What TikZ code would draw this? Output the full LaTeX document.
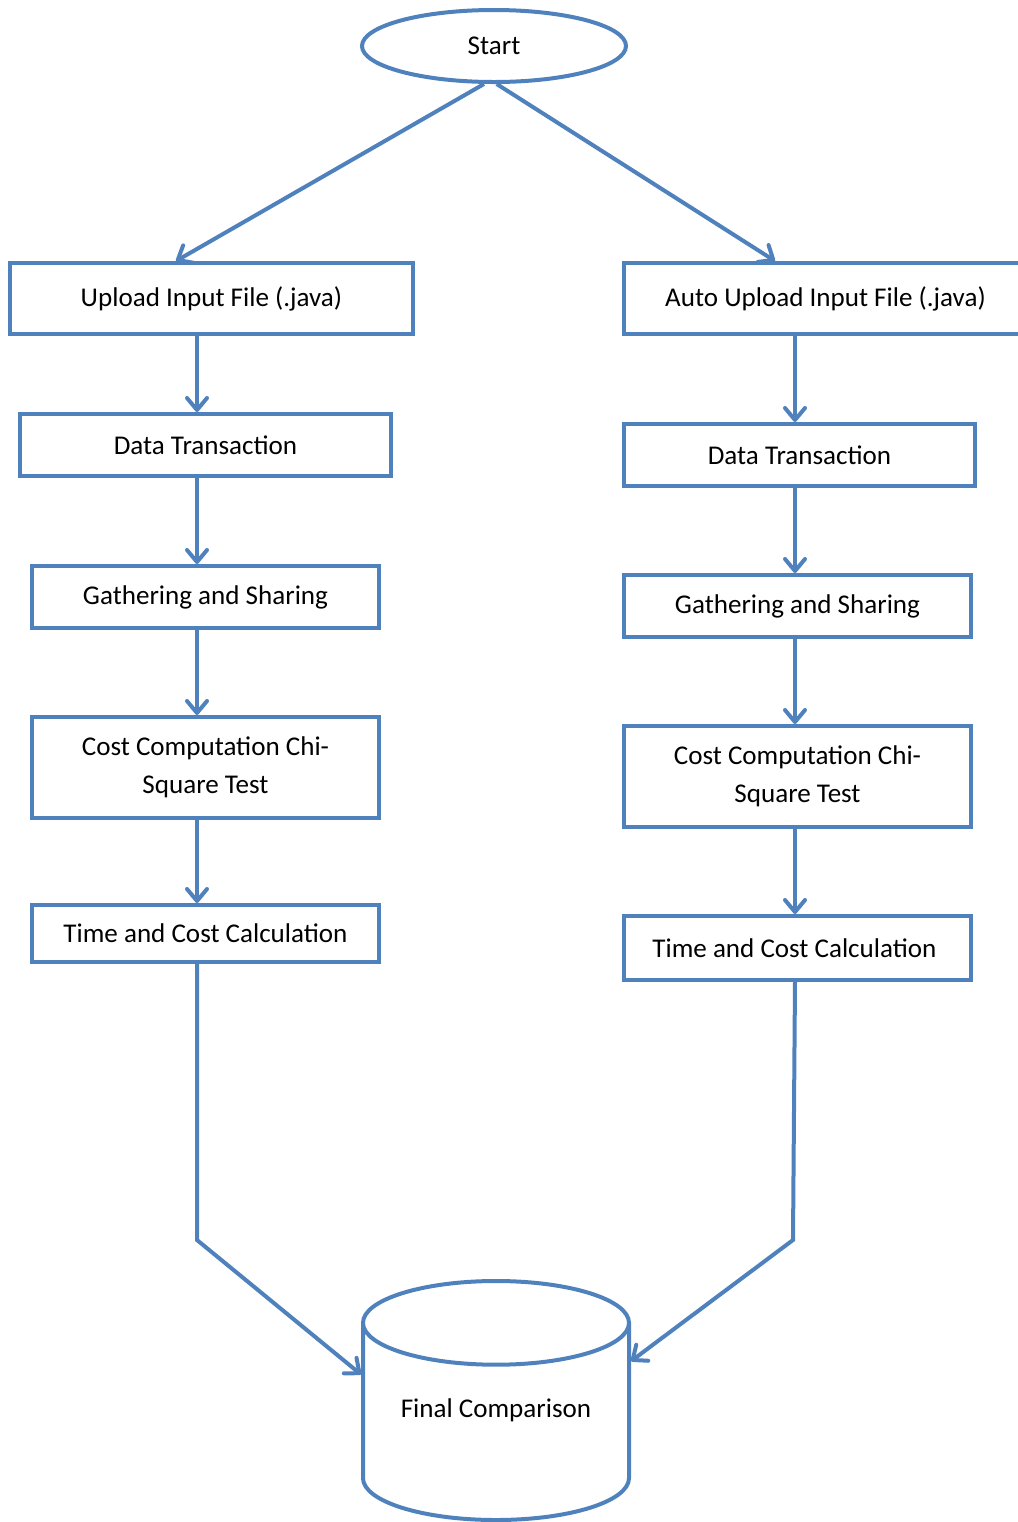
\documentclass[tikz,border=0pt]{standalone}
\usepackage{fontspec}
\setmainfont{Carlito}
\usetikzlibrary{arrows.meta,shapes.geometric}
\definecolor{flowblue}{HTML}{4F81BD}
\tikzset{
  flowline/.style={draw=flowblue, line width=3pt},
  flowbox/.style={flowline, rectangle, align=center, inner sep=0pt},
  flowarrow/.style={flowline, -{Straight Barb[length=9pt,width=15pt,round]}},
}

\begin{document}
\begin{tikzpicture}[x=0.75pt, y=-0.75pt, nodes = {font=\fontsize{20.3pt}{28.5pt}\selectfont}]
  \useasboundingbox (0,0) rectangle (1018,1522);
  \node[flowline, ellipse, minimum width=264*0.75pt, minimum height=72*0.75pt] (start) at (494,46) {Start};
  \foreach \name/\x/\y/\w/\h/\txt in {
      uploadL/211.5/298.5/403/71/{Upload Input File (.java)},
      dataL/205.5/445/371/62/{Data Transaction},
      gatherL/205.5/597/347/62/{Gathering and Sharing},
      costL/205.5/767.5/347/101/{Cost Computation Chi-\\Square Test},
      timeL/205.5/933.5/347/57/{Time and Cost Calculation},
      uploadR/825.5/298.5/403/71/{Auto Upload Input File (.java)},
      dataR/799.5/455/351/62/{Data Transaction},
      gatherR/797.5/606/347/62/{Gathering and Sharing},
      costR/797.5/776.5/347/101/{Cost Computation Chi-\\Square Test},
      timeR/797.5/948/347/64/{Time and Cost Calculation}
    } {
      \node[flowbox, minimum width=\w*0.75pt, minimum height=\h*0.75pt] (\name) at (\x,\y) {\txt};
    };
  \node[flowline, cylinder, shape border rotate=90, aspect=0.42, minimum width=266*0.75pt,
    minimum height=239*0.75pt, text depth=29pt, anchor=shape center] (final) at (496,1400.5) {Final Comparison};
  \coordinate (colL) at (197,0);
  \coordinate (colR) at (795,0);
  \coordinate (aimL) at (176,0);
  \coordinate (aimR) at (775,0);
  \coordinate (bendL) at (197,1240);
  \coordinate (bendR) at (793,1240);
  \draw[flowarrow] ([xshift=-7.5pt]start.south) -- (uploadL.north -| aimL);
  \draw[flowarrow] ([xshift=2pt]start.south) -- (uploadR.north -| aimR);
  \foreach \a/\b in {uploadL/dataL, dataL/gatherL, gatherL/costL, costL/timeL}
    \draw[flowarrow] (\a.south -| colL) -- (\b.north -| colL);
  \foreach \a/\b in {uploadR/dataR, dataR/gatherR, gatherR/costR, costR/timeR}
    \draw[flowarrow] (\a.south -| colR) -- (\b.north -| colR);
  \draw[flowarrow] (timeL.south -| colL) -- (bendL) -- ([yshift=40pt]final.west);
  \draw[flowarrow] (timeR.south -| colR) -- (bendR) -- ([yshift=50pt]final.east);
\end{tikzpicture}
\end{document}
